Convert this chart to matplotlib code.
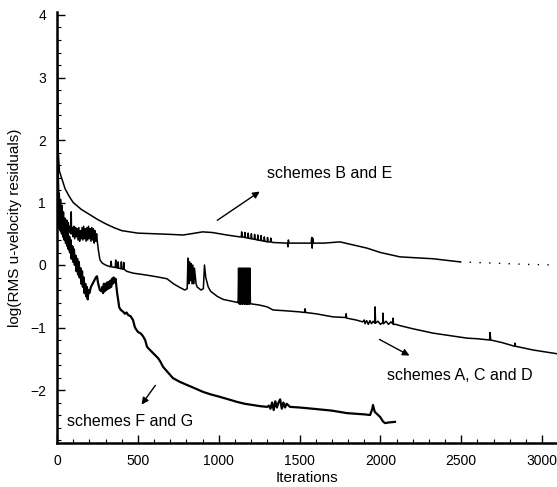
import matplotlib
matplotlib.use("Agg")
import matplotlib.pyplot as plt
from matplotlib.ticker import MultipleLocator

plt.rcParams['font.family'] = ['Liberation Sans', 'DejaVu Sans']

# schemes B and E
be_x = [0, 3, 8, 15, 25, 50, 75, 100, 150, 200, 250, 300, 350, 400, 450, 500, 600, 700, 780, 830, 900, 960,
        1050, 1130, 1140, 1142, 1145, 1160, 1162, 1165, 1180, 1182, 1185, 1200, 1202, 1205, 1220, 1222, 1225,
        1240, 1242, 1245, 1260, 1262, 1265, 1280, 1282, 1285, 1300, 1302, 1305, 1320, 1322, 1325, 1336,
        1425, 1428, 1431, 1434, 1500, 1572, 1575, 1578, 1581, 1584, 1650, 1750, 1800, 1917, 2000, 2121, 2325, 2492]
be_y = [4.0, 2.6, 1.8, 1.5, 1.42, 1.22, 1.1, 1.0, 0.89, 0.81, 0.73, 0.66, 0.6, 0.55, 0.53, 0.51, 0.5, 0.49, 0.48, 0.5, 0.53, 0.52,
        0.48, 0.45, 0.45, 0.53, 0.45, 0.44, 0.52, 0.44, 0.43, 0.51, 0.43, 0.42, 0.5, 0.42, 0.41, 0.49, 0.41,
        0.4, 0.48, 0.4, 0.39, 0.47, 0.39, 0.38, 0.45, 0.38, 0.37, 0.44, 0.37, 0.37, 0.43, 0.37, 0.36,
        0.35, 0.29, 0.4, 0.35, 0.35, 0.35, 0.44, 0.27, 0.43, 0.35, 0.35, 0.37, 0.34, 0.27, 0.2, 0.13, 0.1, 0.05]
be_tail_x = [2492, 2700, 2900, 3092]
be_tail_y = [0.05, 0.03, 0.01, 0.0]

# schemes A, C and D
acd_x = [0, 5, 10, 14, 18, 22, 27, 31, 36, 40, 45, 50, 55, 60, 65, 70, 75, 80, 85, 88, 90, 95, 100, 105, 110, 115,
         120, 125, 130, 135, 140, 145, 150, 155, 160, 165, 170, 175, 180, 185, 190, 195, 200, 205, 210, 215, 220,
         225, 230, 235, 240, 245, 250, 258, 266, 280, 300, 330, 335, 338, 360, 363, 366, 375, 378, 381, 395, 398,
         401, 410, 413, 416, 430, 470, 550, 620, 680, 720, 760, 790, 805, 810, 815, 820, 825, 830, 835, 840, 845,
         850, 860, 866, 890, 905, 912, 920, 935, 950, 990, 1027, 1080, 1118,
         1120, 1123, 1126, 1130, 1133, 1137, 1140, 1144, 1147, 1151, 1154, 1158, 1161, 1165, 1168, 1172, 1175,
         1179, 1182, 1186, 1189, 1193, 1196, 1250, 1300, 1336, 1400, 1500, 1530, 1534, 1538, 1600, 1707, 1785,
         1788, 1791, 1850, 1890, 1900, 1905, 1915, 1925, 1935, 1945, 1955, 1965, 1967, 1970, 1985, 2000, 2014,
         2016, 2019, 2035, 2050, 2065, 2076, 2078, 2081, 2095, 2121, 2200, 2325, 2430, 2535, 2600, 2675, 2678,
         2682, 2750, 2830, 2832, 2835, 2944, 3020, 3092]
acd_y = [3.8, 1.6, 0.9, 1.15, 0.8, 1.05, 0.7, 0.95, 0.65, 0.85, 0.6, 0.75, 0.58, 0.72, 0.55, 0.68, 0.52, 0.62, 0.5, 0.85, 0.5, 0.6, 0.45, 0.62, 0.42, 0.6,
         0.45, 0.58, 0.4, 0.6, 0.38, 0.55, 0.42, 0.6, 0.4, 0.62, 0.42, 0.58, 0.38, 0.6, 0.4, 0.62, 0.42, 0.58, 0.38, 0.6, 0.4,
         0.58, 0.35, 0.55, 0.38, 0.5, 0.36, 0.2, 0.08, 0.03, 0.0, -0.03, 0.06, -0.03, -0.04, 0.08, -0.04, -0.05, 0.05, -0.05, -0.06, 0.05,
         -0.06, -0.07, 0.04, -0.07, -0.1, -0.13, -0.16, -0.19, -0.22, -0.3, -0.36, -0.4, -0.38, 0.11, -0.3, 0.05, -0.25, 0.02, -0.3, 0.0, -0.3,
         -0.05, -0.3, -0.35, -0.4, -0.38, 0.0, -0.2, -0.35, -0.42, -0.5, -0.55, -0.58, -0.6,
         -0.6, -0.05, -0.62, -0.05, -0.63, -0.05, -0.62, -0.05, -0.63, -0.05, -0.62, -0.05, -0.63, -0.05, -0.62, -0.05, -0.63,
         -0.05, -0.62, -0.05, -0.63, -0.05, -0.62, -0.64, -0.67, -0.72, -0.73, -0.75, -0.76, -0.7, -0.76, -0.78, -0.83, -0.84,
         -0.78, -0.85, -0.88, -0.91, -0.88, -0.94, -0.89, -0.95, -0.89, -0.94, -0.9, -0.93, -0.67, -0.93, -0.9, -0.95, -0.92,
         -0.77, -0.94, -0.9, -0.95, -0.91, -0.94, -0.85, -0.95, -0.95, -0.97, -1.02, -1.09, -1.13, -1.17, -1.18, -1.2, -1.08,
         -1.2, -1.24, -1.3, -1.25, -1.3, -1.36, -1.39, -1.42]

# schemes F and G
fg_x = [0, 5, 10, 14, 18, 22, 26, 30, 34, 38, 42, 46, 50, 55, 60, 65, 68, 72, 76, 80, 85, 90, 95, 100, 105, 110,
        115, 120, 125, 130, 135, 140, 145, 150, 155, 160, 165, 170, 175, 180, 185, 190, 195, 200, 210, 220, 230,
        240, 247, 255, 265, 275, 280, 285, 290, 295, 300, 305, 310, 315, 320, 325, 330, 335, 340, 345, 350, 355,
        362, 372, 385, 395, 410, 420, 430, 440, 455, 470, 482, 500, 520, 532, 545, 557, 575, 594, 610, 625, 640,
        656, 680, 717, 760, 804, 850, 903, 950, 1008, 1060, 1113, 1160, 1212, 1260, 1300, 1310, 1320, 1330, 1340,
        1350, 1360, 1370, 1380, 1390, 1400, 1410, 1420, 1441, 1500, 1583, 1700, 1793, 1900, 1936, 1950, 1954,
        1965, 1998, 2015, 2028, 2050, 2090]
fg_y = [3.5, 1.5, 1.0, 0.6, 0.95, 0.55, 0.9, 0.5, 0.8, 0.45, 0.75, 0.4, 0.7, 0.35, 0.6, 0.3, 0.5, 0.25, 0.45, 0.2, 0.4, 0.1, 0.3, 0.05, 0.25, 0.0,
        0.15, -0.1, 0.1, -0.15, 0.05, -0.2, -0.05, -0.3, -0.1, -0.35, -0.2, -0.45, -0.3, -0.5, -0.35, -0.55, -0.4, -0.45, -0.35, -0.3, -0.25,
        -0.2, -0.18, -0.3, -0.4, -0.42, -0.35, -0.45, -0.3, -0.42, -0.3, -0.4, -0.28, -0.38, -0.27, -0.37, -0.25, -0.35, -0.22, -0.3, -0.2, -0.28,
        -0.22, -0.45, -0.68, -0.72, -0.75, -0.78, -0.76, -0.8, -0.82, -0.88, -1.0, -1.07, -1.1, -1.14, -1.2, -1.31, -1.36, -1.41, -1.45, -1.49, -1.55,
        -1.63, -1.7, -1.81, -1.87, -1.92, -1.97, -2.03, -2.07, -2.11, -2.15, -2.19, -2.22, -2.24, -2.26, -2.27, -2.25, -2.3, -2.2, -2.32,
        -2.18, -2.28, -2.2, -2.15, -2.3, -2.2, -2.28, -2.22, -2.27, -2.28, -2.3, -2.33, -2.37, -2.39, -2.4, -2.3, -2.24,
        -2.35, -2.43, -2.5, -2.53, -2.52, -2.51]

x_ticks = [0, 500, 1000, 1500, 2000, 2500, 3000]
y_ticks = [-2, -1, 0, 1, 2, 3, 4]

fig = plt.figure(figsize=(5.57, 4.87), dpi=100)
ax = fig.add_axes([57/557, 1 - 443/487, 1 - 57/557, (443 - 12)/487])

ax.plot(be_x, be_y, color='black', lw=1.1)
ax.plot(be_tail_x, be_tail_y, color='black', lw=1.0, linestyle=(0, (1, 6)))
ax.plot(acd_x, acd_y, color='black', lw=1.1)
ax.plot(fg_x, fg_y, color='black', lw=1.6)

ax.set_xlim(0, 3092)
ax.set_ylim(-2.848, 4.048)
ax.set_xticks(x_ticks)
ax.set_yticks(y_ticks)
ax.xaxis.set_minor_locator(MultipleLocator(100))
ax.yaxis.set_minor_locator(MultipleLocator(0.2))
ax.tick_params(which='major', direction='in', length=6, width=1, labelsize=10, pad=8)
ax.tick_params(which='minor', direction='in', length=3, width=0.8)
ax.spines['top'].set_visible(False)
ax.spines['right'].set_visible(False)
ax.spines['left'].set_linewidth(1.8)
ax.spines['bottom'].set_linewidth(1.8)

ax.set_xlabel('Iterations', fontsize=11, labelpad=2)
ax.set_ylabel('log(RMS u-velocity residuals)', fontsize=11, labelpad=6)

ax.text(1299, 1.47, 'schemes B and E', fontsize=11.5, va='center', ha='left')
ax.annotate('', xy=(1268, 1.2), xytext=(977, 0.69),
            arrowprops=dict(arrowstyle='-|>', color='black', lw=1.0, mutation_scale=10))
ax.text(2042, -1.76, 'schemes A, C and D', fontsize=11.5, va='center', ha='left')
ax.annotate('', xy=(2195, -1.47), xytext=(1979, -1.17),
            arrowprops=dict(arrowstyle='-|>', color='black', lw=1.0, mutation_scale=10))
ax.text(62, -2.51, 'schemes F and G', fontsize=11.5, va='center', ha='left')
ax.annotate('', xy=(513, -2.27), xytext=(618, -1.89),
            arrowprops=dict(arrowstyle='-|>', color='black', lw=1.0, mutation_scale=10))

fig.savefig('out.png', dpi=100)
